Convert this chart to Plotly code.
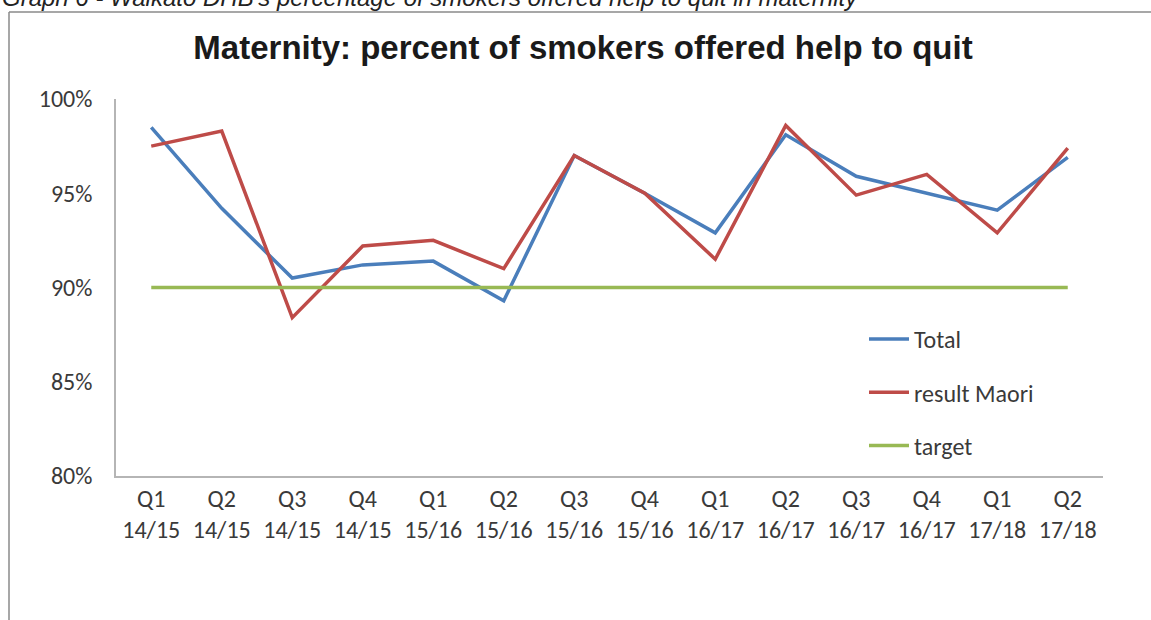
import plotly.graph_objects as go

quarters = ["Q1", "Q2", "Q3", "Q4", "Q1", "Q2", "Q3", "Q4", "Q1", "Q2", "Q3", "Q4", "Q1", "Q2"]
years = ["14/15", "14/15", "14/15", "14/15", "15/16", "15/16", "15/16", "15/16",
         "16/17", "16/17", "16/17", "16/17", "17/18", "17/18"]
categories = [f"{q}<br>{y}" for q, y in zip(quarters, years)]

total = [0.985, 0.942, 0.905, 0.912, 0.914, 0.893, 0.970, 0.950, 0.929, 0.981, 0.959, 0.950, 0.941, 0.969]
maori = [0.975, 0.983, 0.884, 0.922, 0.925, 0.910, 0.970, 0.950, 0.915, 0.986, 0.949, 0.960, 0.929, 0.974]
target = [0.90] * 14

x_idx = list(range(len(categories)))

fig = go.Figure()
fig.add_trace(go.Scatter(x=x_idx, y=total, mode="lines", name="Total",
                         line=dict(color="#4A7EBB", width=3.5), legendgroup="a"))
fig.add_trace(go.Scatter(x=x_idx, y=maori, mode="lines", name="result Maori",
                         line=dict(color="#BE4B48", width=3.5), legendgroup="b"))
fig.add_trace(go.Scatter(x=x_idx, y=target, mode="lines", name="target",
                         line=dict(color="#98B954", width=3.5), legendgroup="c"))

tick_font = dict(family="Carlito, Lato, sans-serif", size=24, color="#3a3a3a")

fig.update_layout(
    width=1151, height=620,
    margin=dict(l=116, r=48, t=99, b=144),
    paper_bgcolor="white", plot_bgcolor="white",
    title=dict(text="<b>Maternity: percent of smokers offered help to quit</b>",
               x=583/1151, xanchor="center", xref="container",
               y=1 - 47/620, yanchor="middle", yref="container",
               font=dict(family="Liberation Sans, Arial, sans-serif", size=33, color="#1a1a1a")),
    xaxis=dict(range=[-0.5, 13.5], tickmode="array", tickvals=x_idx, ticktext=categories,
               showgrid=False, zeroline=False, showline=True, linecolor="#b5b5b5", linewidth=1.5,
               ticks="", tickfont=tick_font, ticklabelstandoff=0, fixedrange=True),
    yaxis=dict(range=[0.80, 1.00], dtick=0.05, tickformat=".0%",
               showgrid=False, zeroline=False, showline=True, linecolor="#b5b5b5", linewidth=1.5,
               ticks="", tickfont=tick_font, ticklabelstandoff=17, fixedrange=True),
    legend=dict(x=(864-116)/987, y=(476-317)/377, xanchor="left", yanchor="top",
                font=tick_font, tracegroupgap=19, bgcolor="rgba(0,0,0,0)", itemwidth=40),
    showlegend=True,
)

# outer frame of the figure box (top and left edges)
fig.add_shape(type="line", xref="paper", yref="paper",
              x0=(9-116)/987, x1=(1152-116)/987, y0=(476-12)/377, y1=(476-12)/377,
              line=dict(color="#8a8a8a", width=1.5))
fig.add_shape(type="line", xref="paper", yref="paper",
              x0=(9-116)/987, x1=(9-116)/987, y0=(476-12)/377, y1=(476-621)/377,
              line=dict(color="#8a8a8a", width=1.5))

fig.add_annotation(text="<i>Graph 6 - Waikato DHB's percentage of smokers offered help to quit in maternity</i>",
                   xref="paper", yref="paper", x=(0-116)/987, y=(476+2)/377,
                   xanchor="left", yanchor="middle", showarrow=False,
                   font=dict(family="Liberation Sans, Arial, sans-serif", size=24, color="#222222"))

fig.write_html("out.html")
